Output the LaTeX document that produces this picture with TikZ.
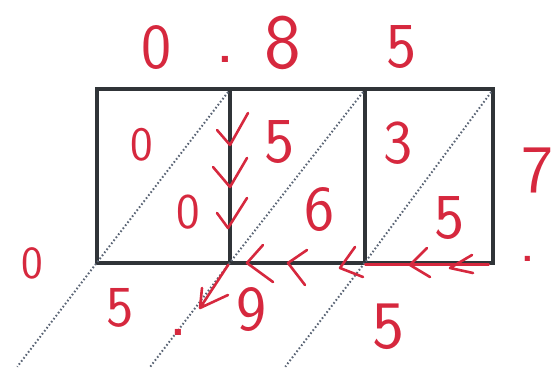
\documentclass[tikz,border=0pt]{standalone}
\usepackage{tikz}
\definecolor{ink}{RGB}{214,40,62}
\definecolor{gridline}{RGB}{48,52,56}
\definecolor{dotline}{RGB}{92,102,118}

\begin{document}
\begin{tikzpicture}[x=1pt,y=-1pt,
digit/.style={text=ink, inner sep=0pt, font=\sffamily\fontsize{#1}{#1}\selectfont},
digit/.default=64,
cell/.style={draw=gridline, line width=3.5pt, minimum height=174pt, inner sep=0pt},
diag/.style={draw=dotline, line width=2pt, dash pattern=on 1.6pt off 2.2pt, shorten <=6pt},
carry/.style={draw=ink, line width=2.6pt, line cap=round, line join=round}
]
\useasboundingbox (0,0) rectangle (556,382);

\node[cell, minimum width=133pt] (c1) at (163.5,176) {};
\node[cell, minimum width=135pt] (c2) at (297.5,176) {};
\node[cell, minimum width=128pt] (c3) at (429,176) {};

\foreach \c in {c1,c2,c3}
  \draw[diag] (\c.north east) -- (\c.south west) -- ++(-78,102);

\node[digit] (a0) at (157,48) {0};
\node[digit=76] (apt) at (225,59) {.};
\node[digit=78] (a8) at (283,43) {8};
\node[digit] (a5) at (402,47) {5};
\node[digit=68] (b7) at (537,170) {7};
\node[digit=64] (bpt) at (528,259) {.};

\node[digit=48] (p1) at (142,145) {0};
\node[digit=50] (q1) at (188,212) {0};
\node[digit] (p2) at (280,142) {5};
\node[digit] (q2) at (320,210) {6};
\node[digit=62] (p3) at (398,143) {3};
\node[digit] (q3) at (450,218) {5};

\node[digit=46] (r0) at (32,263) {0};
\node[digit=58] (r5) at (120,308) {5};
\node[digit=76] (rpt) at (178,332) {.};
\node[digit] (r9) at (252,310) {9};
\node[digit=68] (r5b) at (388,327) {5};

\foreach \tx/\ty/\ax/\ay/\bx/\by in {230/145/217/130/248/113, 230/187/213/167/247/158, 228/228/217/213/247/198,
  247/263/263/245/273/282, 288/263/307/250/305/285, 340/268/355/247/363/277,
  410/265/427/248/430/277, 450/268/472/255/473/273}
  \draw[carry] (\ax,\ay) -- (\tx,\ty) -- (\bx,\by);
\draw[carry, shorten <=2pt, shorten >=6pt] (c3.south west) -- (c3.south east);

\coordinate (end) at (200,308);
\draw[carry] (c2.south west) -- (end) -- ++(2,-20) (end) -- ++(28,-13);
\end{tikzpicture}
\end{document}
